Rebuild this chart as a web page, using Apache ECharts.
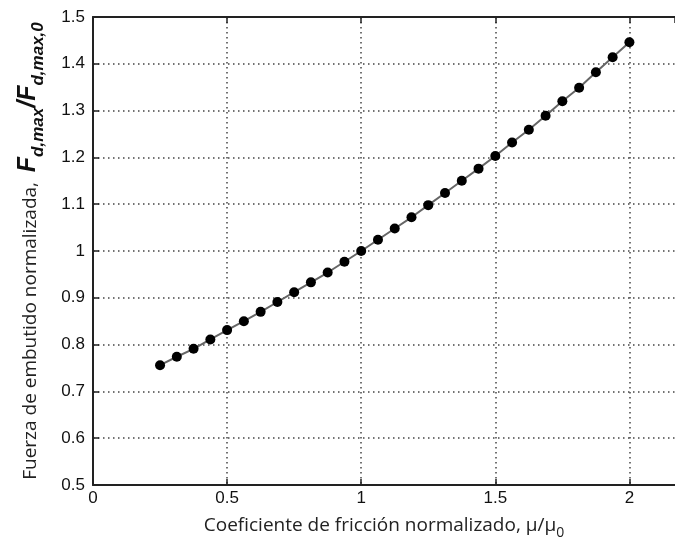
<!DOCTYPE html>
<html><head><meta charset="utf-8">
<script src="https://cdn.jsdelivr.net/npm/echarts@6/dist/echarts.min.js"></script>
<style>html,body{margin:0;padding:0;background:#fff}#c{width:675px;height:538px}</style>
</head><body><div id="c"></div>
<script>
const muRatio = [0.25,0.3125,0.375,0.4375,0.5,0.5625,0.625,0.6875,0.75,0.8125,0.875,0.9375,1.0,1.0625,1.125,1.1875,1.25,1.3125,1.375,1.4375,1.5,1.5625,1.625,1.6875,1.75,1.8125,1.875,1.9375,2.0];
const forceRatio = [0.756,0.774,0.791,0.811,0.831,0.850,0.870,0.891,0.912,0.933,0.954,0.977,1.000,1.024,1.048,1.072,1.098,1.124,1.150,1.176,1.203,1.232,1.259,1.289,1.320,1.349,1.382,1.414,1.446];
const xTicks = [0,0.5,1,1.5,2];
const yTicks = [0.5,0.6,0.7,0.8,0.9,1,1.1,1.2,1.3,1.4,1.5];

const chart = echarts.init(document.getElementById('c'));
const axisCol = '#222';
const gridLine = {show:true, showMaxLine:false, lineStyle:{color:'#444', width:1.5, type:[1.5,3.5]}};
const isTick = v => xTicks.some(t => Math.abs(t - v) < 1e-9);
chart.setOption({
  animation:false,
  grid:{left:93, top:17, right:0, bottom:53, containLabel:false, outerBoundsMode:'none'},
  xAxis:[{
    type:'value', min:0, max:2.17, interval:0.5,
    axisLine:{show:true, onZero:false, lineStyle:{color:axisCol, width:2}},
    axisTick:{show:true, inside:true, length:6, lineStyle:{color:axisCol, width:1.5}},
    axisLabel:{color:'#111', fontFamily:'Liberation Sans', fontSize:17, margin:5, showMaxLabel:false,
      formatter:v=> isTick(v) ? String(v) : ''},
    splitLine:gridLine,
    name:'{n|Coeficiente de fricción normalizado, μ/μ}{s|0}',
    nameLocation:'middle', nameGap:26,
    nameTextStyle:{rich:{
      n:{fontFamily:'Open Sans', fontSize:19, color:'#222', lineHeight:24, verticalAlign:'bottom'},
      s:{fontFamily:'Open Sans', fontSize:14, color:'#222', lineHeight:24, verticalAlign:'bottom', padding:[0,0,-5,0]}
    }}
  },{
    type:'value', position:'top', min:0, max:2.17, interval:0.5,
    axisLine:{show:true, lineStyle:{color:axisCol, width:2}},
    axisTick:{show:true, inside:true, length:6, lineStyle:{color:axisCol, width:1.5}},
    axisLabel:{show:false}, splitLine:{show:false}
  }],
  yAxis:[{
    type:'value', min:0.5, max:1.5, interval:0.1,
    axisLine:{show:true, onZero:false, lineStyle:{color:axisCol, width:2}},
    axisTick:{show:true, inside:true, length:6, lineStyle:{color:axisCol, width:1.5}},
    axisLabel:{color:'#111', fontFamily:'Liberation Sans', fontSize:17, margin:8,
      formatter:v=>{const r=Math.round(v*10)/10; return yTicks.indexOf(r)>=0 ? String(r) : '';}},
    splitLine:{show:true, lineStyle:{color:'#444', width:1.5, type:[1.5,3.5]}},
    name:'{n|Fuerza de embutido normalizada,  }{b|F}{s|d,max}{b|/F}{s|d,max,0}',
    nameLocation:'middle', nameGap:53, nameRotate:90,
    nameTextStyle:{rich:{
      n:{fontFamily:'Open Sans', fontSize:19, color:'#222', lineHeight:30, verticalAlign:'bottom'},
      b:{fontFamily:'Liberation Sans', fontSize:25, fontWeight:'bold', fontStyle:'italic', color:'#111', lineHeight:30, verticalAlign:'bottom', padding:[0,0,-1,0]},
      s:{fontFamily:'Liberation Sans', fontSize:17, fontWeight:'bold', fontStyle:'italic', color:'#111', lineHeight:30, verticalAlign:'bottom', padding:[0,0,-7,0]}
    }}
  }],
  series:[{
    type:'line',
    data: muRatio.map((x,i)=>[x, forceRatio[i]]),
    symbol:'circle', symbolSize:10,
    itemStyle:{color:'#000'},
    lineStyle:{color:'#666', width:2},
    z:5
  }]
});
</script></body></html>
